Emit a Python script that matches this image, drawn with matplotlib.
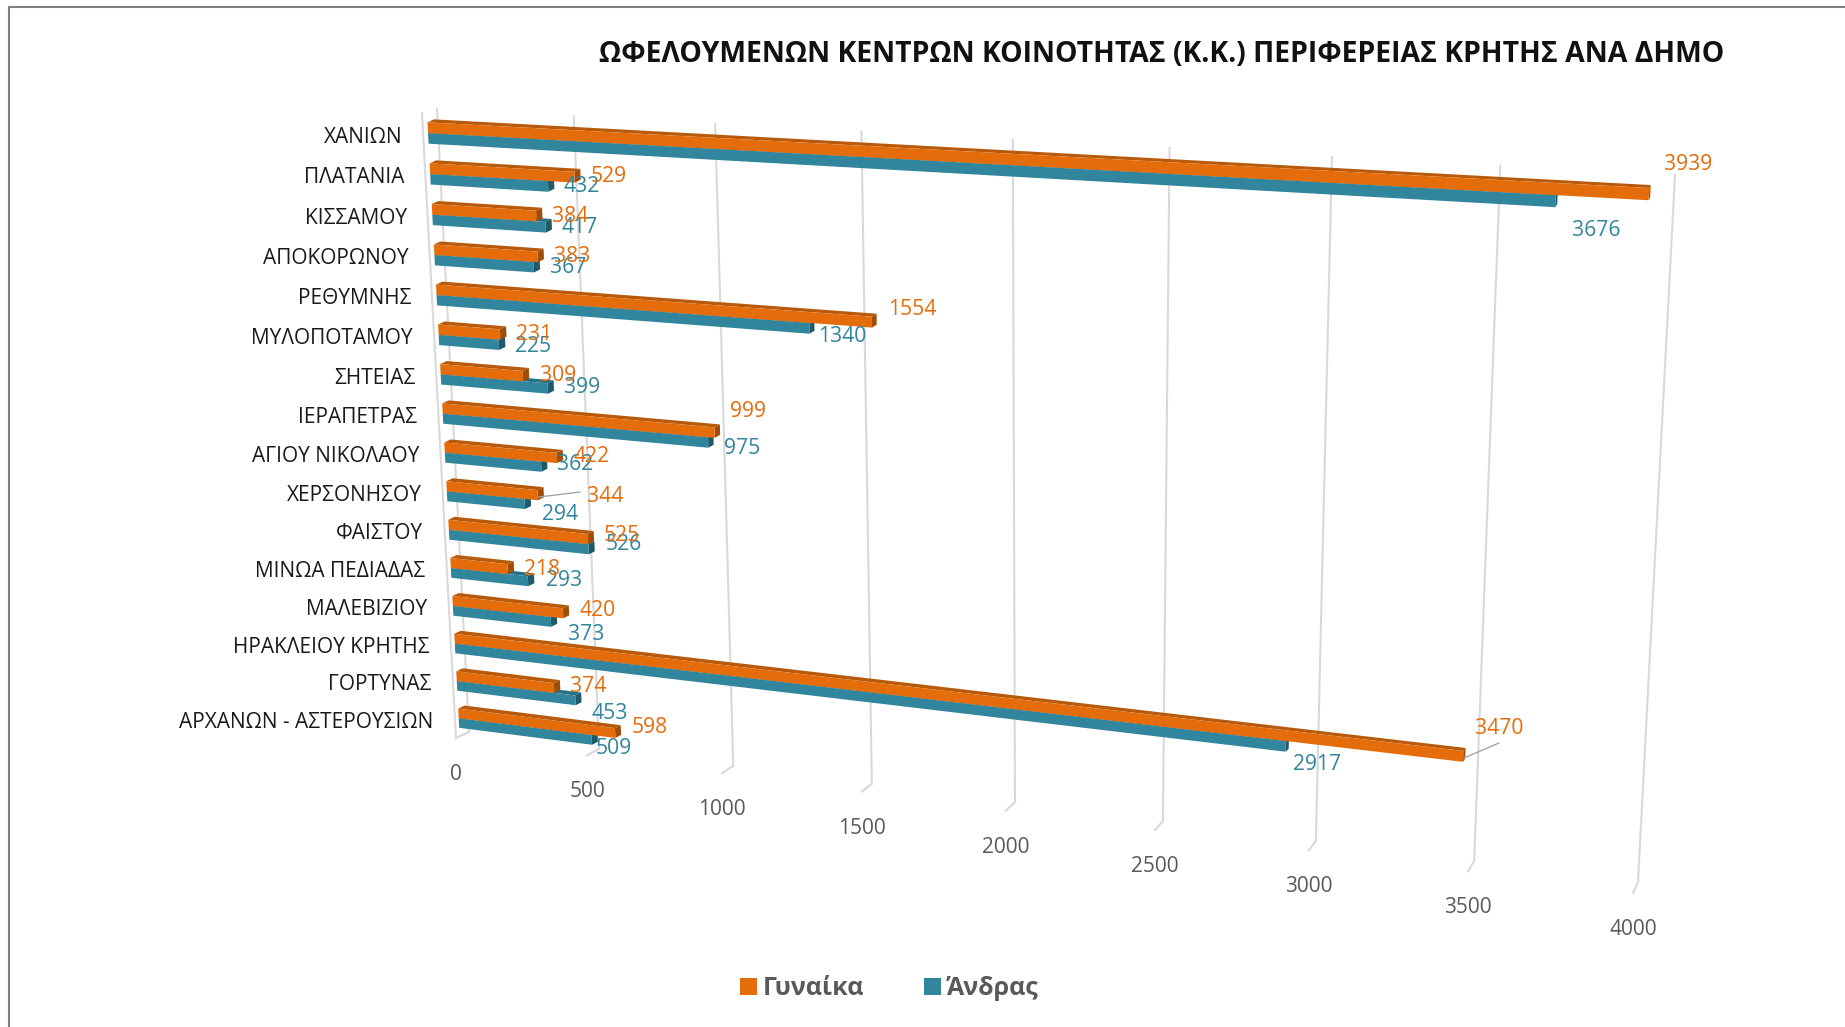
"""Perspective (Excel 3-D style) horizontal bar chart, drawn through projective transforms."""
import numpy as np
import matplotlib
matplotlib.use('Agg')
import matplotlib.pyplot as plt
from matplotlib.patches import Patch, Polygon
from matplotlib.transforms import IdentityTransform, Transform

plt.rcParams['font.family'] = ['Open Sans', 'DejaVu Sans']

TITLE = 'ΩΦΕΛΟΥΜΕΝΩΝ ΚΕΝΤΡΩΝ ΚΟΙΝΟΤΗΤΑΣ (Κ.Κ.) ΠΕΡΙΦΕΡΕΙΑΣ ΚΡΗΤΗΣ ΑΝΑ ΔΗΜΟ'
municipalities = ['ΧΑΝΙΩΝ', 'ΠΛΑΤΑΝΙΑ', 'ΚΙΣΣΑΜΟΥ', 'ΑΠΟΚΟΡΩΝΟΥ', 'ΡΕΘΥΜΝΗΣ', 'ΜΥΛΟΠΟΤΑΜΟΥ',
                  'ΣΗΤΕΙΑΣ', 'ΙΕΡΑΠΕΤΡΑΣ', 'ΑΓΙΟΥ ΝΙΚΟΛΑΟΥ', 'ΧΕΡΣΟΝΗΣΟΥ', 'ΦΑΙΣΤΟΥ',
                  'ΜΙΝΩΑ ΠΕΔΙΑΔΑΣ', 'ΜΑΛΕΒΙΖΙΟΥ', 'ΗΡΑΚΛΕΙΟΥ ΚΡΗΤΗΣ', 'ΓΟΡΤΥΝΑΣ',
                  'ΑΡΧΑΝΩΝ - ΑΣΤΕΡΟΥΣΙΩΝ']
women = [3939, 529, 384, 383, 1554, 231, 309, 999, 422, 344, 525, 218, 420, 3470, 374, 598]
men = [3676, 432, 417, 367, 1340, 225, 399, 975, 362, 294, 526, 293, 373, 2917, 453, 509]
value_ticks = [0, 500, 1000, 1500, 2000, 2500, 3000, 3500, 4000]

# layout, in reference pixels
W, H = 1845, 1027
women_label_xy = [(1688, 162), (609, 174), (570, 214), (572, 254), (912, 307), (534, 332),
                  (558, 373), (748, 409), (592, 454), (605, 494), (622, 533), (542, 567),
                  (598, 608), (1499, 726), (588, 684), (650, 725)]
men_label_xy = [(1596, 228), (582, 184), (580, 225), (568, 265), (842, 334), (533, 344),
                (582, 385), (742, 446), (575, 462), (560, 512), (624, 542), (564, 578),
                (586, 632), (1317, 762), (610, 711), (614, 746)]
TEXT_DROP = 2.5  # the font sits a little higher than the reference's

ORANGE, ORANGE_TOP, ORANGE_END = '#E46C0A', '#B85A0C', '#A04D08'
TEAL, TEAL_TOP, TEAL_END = '#31859C', '#2A7085', '#1F5A6B'
GRID = '#D9D9D9'


def fit_homography(src, dst):
    """Least squares plane-to-plane mapping from matching point pairs."""
    src = np.array(src, dtype=float)
    dst = np.array(dst, dtype=float)
    sx, sy = src[:, 0].max(), max(src[:, 1].max(), 1)
    rows = []
    for (x, y), (u, v) in zip(src / [sx, sy], dst / 1000):
        rows.append([x, y, 1, 0, 0, 0, -u * x, -u * y, -u])
        rows.append([0, 0, 0, x, y, 1, -v * x, -v * y, -v])
    h = np.linalg.svd(np.array(rows))[2][-1].reshape(3, 3)
    return np.diag([1000, 1000, 1]) @ h @ np.diag([1 / sx, 1 / sy, 1])


class Projective(Transform):
    input_dims = 2
    output_dims = 2
    is_separable = False
    has_inverse = False

    def __init__(self, matrix):
        super().__init__()
        self.matrix = matrix

    def transform_non_affine(self, values):
        values = np.asarray(values, dtype=float)
        q = np.column_stack([values, np.ones(len(values))]) @ self.matrix.T
        return np.column_stack([q[:, 0] / q[:, 2], H - q[:, 1] / q[:, 2]])


# bar plane: (value, category index) -> pixels
bars = Projective(fit_homography(
    [(0, 0), (0, 15), (3939, 0), (3470, 13), (598, 15), (3676, 0.25)],
    [(428, 133), (459, 719), (1648, 200), (1463, 762), (615, 737), (1556, 207)]))
# back wall: (value, 0..1) -> pixels
wall = Projective(fit_homography(
    [(0, 0), (4000, 0), (4000, 1), (0, 1)],
    [(437, 109), (1675, 175), (1638, 882), (469, 732)]))
px = IdentityTransform()


def depth(x):
    return 6.5 - 5 * (x - 430) / 1220, 3


fig = plt.figure(figsize=(W / 100, H / 100), dpi=100)
ax = fig.add_axes([0, 0, 1, 1])
ax.axis('off')

# page frame
ax.plot([9, 9, W], [0, H - 7, H - 7], color='#7F7F7F', lw=1.5, transform=px, clip_on=False)

# grid: wall line, then the short floor segment towards the viewer
for v in value_ticks:
    ax.plot([v, v], [0, 1], color=GRID, lw=1.5, transform=wall, zorder=1)
    bx, by = wall.transform([(v, 1)])[0]
    fx, fy = bx - 13 + 8 * v / 4000, by - 6 - 5 * v / 4000
    ax.plot([bx, fx], [by, fy], color=GRID, lw=1.5, transform=px, zorder=1)
    ax.text(fx, fy - 34 - TEXT_DROP, str(v), color='#595959', fontsize=15, ha='center',
            va='center', transform=px)
# side wall edge at zero
ax.plot([422, 456], [H - 113, H - 738], color=GRID, lw=1.5, transform=px, zorder=1)

# bars: each pair is split at the category index
half = 0.26
for i, (w, m) in enumerate(zip(women, men)):
    for v, y0, y1, cols in [(m, i, i + half, (TEAL, TEAL_TOP, TEAL_END)),
                            (w, i - half, i, (ORANGE, ORANGE_TOP, ORANGE_END))]:
        a, b, c = bars.transform([(0, y0), (v, y0), (v, y1)])
        da, db = np.array(depth(a[0])), np.array(depth(b[0]))
        ax.add_patch(Polygon([a, b, b + db, a + da], color=cols[1], lw=0, transform=px, zorder=3))
        ax.add_patch(Polygon([b, c, c + db, b + db], color=cols[2], lw=0, transform=px, zorder=3))
        ax.barh(y0, v, height=y1 - y0, align='edge', color=cols[0], lw=0, transform=bars, zorder=3)

# category labels, right aligned along the skewed axis
for i, name in enumerate(municipalities):
    x, y = bars.transform([(0, i)])[0]
    ax.text(x - 25.5, y - TEXT_DROP - 1.5, name, color='#1A1A1A', fontsize=15, ha='right',
            va='center', transform=px, zorder=5)

# data labels
for vals, xy, col in [(men, men_label_xy, TEAL), (women, women_label_xy, ORANGE)]:
    for v, (x, y) in zip(vals, xy):
        ax.text(x, H - y - TEXT_DROP, str(v), color=col, fontsize=15.2, ha='center', va='center',
                transform=px, zorder=6)

# leader lines
ax.plot([539, 580], [H - 497, H - 492], color='#A6A6A6', lw=1, transform=px, zorder=4)
ax.plot([1464, 1499], [H - 758, H - 743], color='#A6A6A6', lw=1, transform=px, zorder=4)

ax.text(1162, H - 52 - TEXT_DROP, TITLE, color='#111111', fontsize=20.4, fontweight='bold',
        ha='center', va='center', transform=px)

handles = [Patch(color=ORANGE, label='Γυναίκα', lw=0), Patch(color=TEAL, label='Άνδρας', lw=0)]
leg = ax.legend(handles=handles, ncol=2, frameon=False, loc='center',
                bbox_to_anchor=(889, H - 988.5), bbox_transform=px,
                prop={'size': 18, 'weight': 'bold'}, labelcolor='#595959',
                handlelength=0.7, handleheight=0.7, handletextpad=0.21, columnspacing=2.4)

ax.set_xlim(0, 4000)
ax.set_ylim(15.5, -0.5)
fig.savefig('out.png', dpi=100)
